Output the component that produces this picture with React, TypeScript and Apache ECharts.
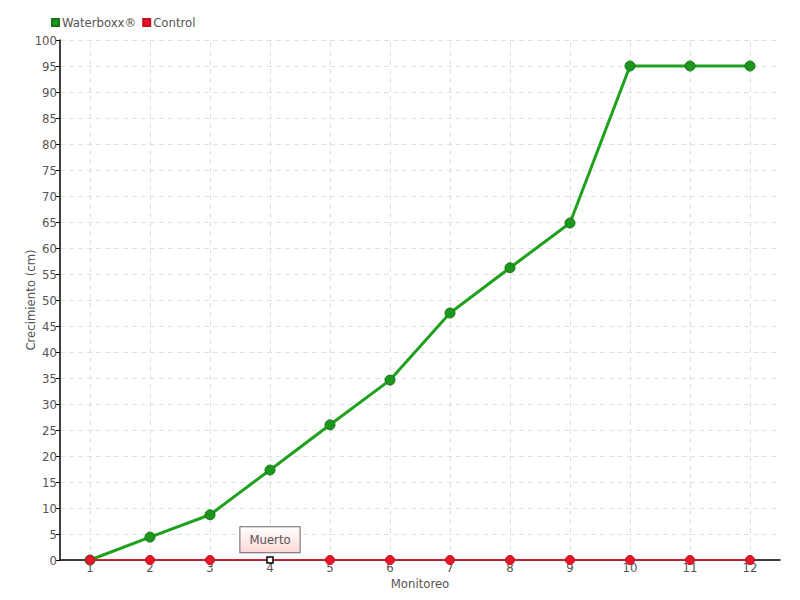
import React, { useEffect, useRef } from "react";
import * as echarts from "echarts";

const categories = ["1", "2", "3", "4", "5", "6", "7", "8", "9", "10", "11", "12"];
const waterboxx = [0, 4.4, 8.7, 17.3, 26, 34.6, 47.5, 56.2, 64.8, 95, 95, 95];
const control = [0, 0, 0, 0, 0, 0, 0, 0, 0, 0, 0, 0];
const deadIndex = 3;
const deadLabel = "Muerto";

const FONT = "'Liberation Sans Narrow', 'DejaVu Sans Condensed', 'DejaVu Sans', sans-serif";
const FS = 13;

export default function App() {
  const ref = useRef<HTMLDivElement>(null);
  useEffect(() => {
    if (!ref.current) return;
    const chart = echarts.init(ref.current, undefined, { renderer: "svg" });
    const controlData = control.map((v, i) =>
      i === deadIndex
        ? {
            value: v,
            symbol: "rect",
            symbolSize: 6,
            itemStyle: { color: "#ffffff", borderColor: "#000000", borderWidth: 1.5 },
            label: {
              show: true,
              formatter: deadLabel,
              position: "top",
              distance: 4,
              color: "#555",
              fontFamily: FONT,
              fontSize: FS,
              padding: [6, 9, 6, 9],
              borderColor: "#666",
              borderWidth: 1,
              backgroundColor: {
                type: "linear",
                x: 0, y: 0, x2: 0, y2: 1,
                colorStops: [
                  { offset: 0, color: "#ffffff" },
                  { offset: 1, color: "#ffd6d6" },
                ],
              },
            },
          }
        : v
    );
    chart.setOption({
      animation: false,
      textStyle: { fontFamily: FONT, color: "#555" },
      legend: {
        left: 46,
        top: 11,
        itemWidth: 7,
        itemHeight: 7,
        itemGap: 6,
        icon: "rect",
        textStyle: { fontFamily: FONT, fontSize: FS, color: "#555", padding: [0, 0, 0, -2] },
        data: ["Waterboxx®", "Control"],
      },
      grid: { left: 60, right: 20, top: 40, bottom: 40, containLabel: false },
      xAxis: {
        type: "category",
        data: categories,
        name: "Monitoreo",
        nameLocation: "middle",
        nameGap: 17,
        nameMoveOverlap: false,
        nameTextStyle: { fontFamily: FONT, fontSize: FS, color: "#555" },
        axisLine: { lineStyle: { color: "#000", width: 1.5 } },
        axisTick: { show: false },
        axisLabel: { fontFamily: FONT, fontSize: FS, color: "#555", margin: 1 },
        splitLine: { show: false },
      },
      yAxis: {
        type: "value",
        min: 0,
        max: 100,
        interval: 5,
        name: "Crecimiento (cm)",
        nameLocation: "middle",
        nameGap: 23,
        nameMoveOverlap: false,
        nameTextStyle: { fontFamily: FONT, fontSize: FS, color: "#555" },
        axisLine: { show: true, lineStyle: { color: "#000", width: 1.5 } },
        axisTick: { show: true, length: 4, lineStyle: { color: "#000" } },
        axisLabel: { fontFamily: FONT, fontSize: FS, color: "#555", margin: 3 },
        splitLine: { show: true, lineStyle: { color: "#e0e0e0", type: [5, 4], width: 1 } },
      },
      series: [
        {
          name: "Waterboxx®",
          type: "line",
          data: waterboxx,
          color: "#1c9c1c",
          symbol: "circle",
          symbolSize: 10,
          lineStyle: { color: "#1fa01f", width: 3 },
          itemStyle: { color: "#1c961c", borderColor: "#147814", borderWidth: 1 },
          z: 3,
          markLine: {
            silent: true,
            symbol: "none",
            label: { show: false },
            lineStyle: { color: "#e0e0e0", type: [5, 4], width: 1 },
            z: 1,
            data: categories.map((c) => ({ xAxis: c })),
          },
        },
        {
          name: "Control",
          type: "line",
          data: controlData,
          color: "#ee1122",
          symbol: "circle",
          symbolSize: 9,
          lineStyle: { color: "#ff1a2a", width: 1.5 },
          itemStyle: { color: "#e8162a", borderColor: "#c8101f", borderWidth: 1 },
          z: 4,
        },
      ],
    });
    return () => chart.dispose();
  }, []);
  return <div ref={ref} style={{ width: 800, height: 600, position: "absolute", left: 0, top: 0 }} />;
}
